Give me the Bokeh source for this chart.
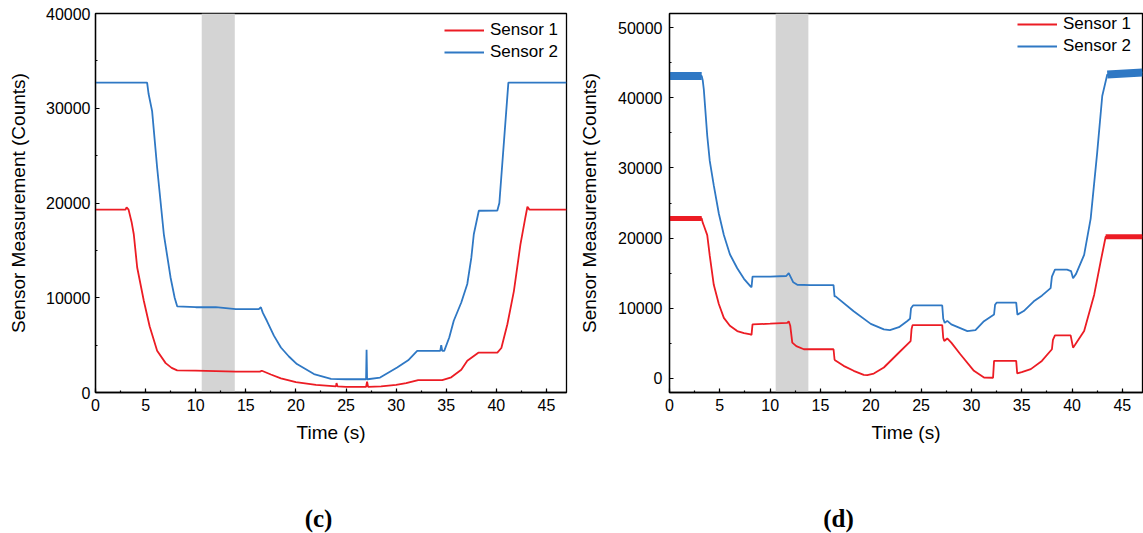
from bokeh.plotting import figure
from bokeh.models import Range1d, Legend, LegendItem, BoxAnnotation, Label, SingleIntervalTicker
from bokeh.layouts import row, column
from bokeh.embed import file_html
from bokeh.resources import INLINE

# ---------------- data ----------------
series_names = ["Sensor 1", "Sensor 2"]

# Panel (c)
c_s1_t = [0, 3.0, 3.1, 3.3, 3.6, 3.82, 4.16, 4.82, 5.4, 6.15, 7.0, 7.6, 8.15, 10, 12, 14, 16.4, 16.6,
          17.5, 18.5, 20, 22, 24.0, 24.05, 24.15, 25, 27.0, 27.1, 27.2, 28.5, 30, 31, 32.2, 34.6,
          35.5, 36.5, 37.1, 38.2, 40.1, 40.5, 41.1, 41.75, 42.4, 42.9, 43.1, 43.3, 47]
c_s1_y = [19300, 19300, 19550, 19300, 18000, 16700, 13190, 9680, 7000, 4400, 3100, 2600, 2330, 2300, 2250, 2200, 2200, 2300,
          1900, 1500, 1100, 800, 650, 1000, 650, 600, 600, 1150, 600, 650, 800, 1000, 1300, 1300,
          1600, 2400, 3350, 4200, 4200, 4700, 7200, 10700, 15600, 18500, 19600, 19300, 19300]

c_s2_t = [0, 5.15, 5.3, 5.65, 6.15, 6.82, 7.49, 7.9, 8.15, 10, 12, 14, 16.3, 16.5, 16.7, 17.1, 17.8, 18.5, 19.3, 20.1,
          21.8, 23.5, 25, 27.0, 27.05, 27.1, 27.15, 28.4, 30.1, 31.2, 32.1, 34.4, 34.5, 34.6, 34.8,
          35.3, 35.75, 36.5, 37.1, 37.5, 37.75, 38.25, 40.1, 40.3, 41.2, 47]
c_s2_y = [32700, 32700, 31500, 29700, 23750, 16700, 12140, 10000, 9100, 9000, 9000, 8800, 8800, 9000, 8400, 7570, 6000, 4750, 3800, 3000,
          1950, 1440, 1400, 1400, 4500, 1400, 1400, 1580, 2640, 3400, 4400, 4400, 5000, 4400, 4400,
          5800, 7570, 9500, 11450, 14200, 16700, 19180, 19200, 20000, 32700, 32700]
c_band = [10.6, 13.9]

# Panel (d)
d_s1_t = [0, 3.2, 3.3, 3.41, 3.75, 4.0, 4.4, 4.9, 5.4, 6.0, 6.73, 7.4, 8.05, 8.15, 8.25, 10, 11.7, 11.85, 12.0, 12.2, 12.6, 13.35,
          16.3, 16.4, 16.45, 17.3, 18.3, 19.3, 19.65, 20.3, 21.3, 22.63, 23.96, 24.05, 24.15, 27.1, 27.2,
          27.3, 27.6, 28.0, 28.9, 30.25, 31.25, 32.15, 32.25, 34.45, 34.55, 35.0, 35.9, 37.0, 38.0, 38.1,
          38.3, 39.86, 40.1, 40.3, 41.2, 42.2, 42.84, 43.34, 47]
d_s1_y = [22800, 22800, 22200, 21800, 20430, 17500, 13350, 10600, 8630, 7500, 6750, 6450, 6280, 6200, 7700, 7800, 7920, 8150, 7500, 5100, 4600, 4160,
          4160, 2700, 2600, 1800, 1090, 520, 480, 700, 1560, 3450, 5330, 7000, 7600, 7600, 5800,
          5330, 5700, 5100, 3450, 1090, 140, 100, 2500, 2500, 710, 900, 1330, 2500, 4160, 5500,
          6130, 6130, 4390, 4800, 6750, 11940, 16650, 20190, 20200]

d_s2_t = [0, 3.2, 3.3, 3.41, 3.75, 4.0, 4.4, 4.9, 5.4, 6.0, 6.73, 7.4, 8.05, 8.15, 8.25, 10, 11.6, 11.85, 12.3, 12.7, 14, 16.3,
          16.4, 16.5, 18.3, 20.0, 21.3, 21.9, 22.8, 23.6, 23.9, 24.0, 24.2, 27.1, 27.2, 27.35, 27.6, 28.0,
          29.6, 30.4, 31.25, 32.25, 32.35, 32.5, 34.45, 34.57, 35.2, 36.2, 37.0, 37.87, 38.0, 38.3, 39.5,
          39.9, 40.1, 40.4, 41.2, 41.85, 42.5, 43.0, 43.5, 47]
d_s2_y = [43100, 43100, 42500, 41170, 34580, 31000, 27500, 23500, 20430, 17700, 15700, 14200, 13120, 13000, 14500, 14500, 14600, 15000, 13700, 13350, 13300, 13300,
          11700, 11700, 9580, 7780, 6990, 6900, 7300, 8160, 8500, 10000, 10400, 10400, 8500, 7920, 8200, 7700,
          6750, 6900, 8160, 9110, 10500, 10800, 10800, 9100, 9600, 10990, 11800, 12870, 14500, 15500, 15500,
          15300, 14290, 14900, 17600, 22780, 32220, 40240, 43300, 43600]
d_band = [10.55, 13.8]

captions = ["(c)", "(d)"]

RED = "#ec1c24"
BLUE = "#2f78c4"
FONT = "Liberation Sans"


def style(p):
    p.background_fill_color = "white"
    p.border_fill_color = "white"
    p.outline_line_color = "black"
    p.outline_line_width = 1.3
    p.xgrid.visible = False
    p.ygrid.visible = False
    for ax in (p.xaxis[0], p.yaxis[0]):
        ax.axis_line_color = "black"
        ax.axis_line_width = 1.3
        ax.major_tick_in = 4
        ax.major_tick_out = 0
        ax.minor_tick_in = 2
        ax.minor_tick_out = 0
        ax.major_tick_line_color = "black"
        ax.minor_tick_line_color = "black"
        ax.major_tick_line_width = 1.2
        ax.minor_tick_line_width = 1.2
        ax.major_label_text_font = FONT
        ax.major_label_text_font_size = "16px"
        ax.major_label_text_color = "black"
        ax.axis_label_text_font = FONT
        ax.axis_label_text_font_size = "19px"
        ax.axis_label_text_font_style = "normal"
        ax.axis_label_text_color = "black"
    p.xaxis[0].ticker = SingleIntervalTicker(interval=5, num_minor_ticks=2)
    p.yaxis[0].ticker = SingleIntervalTicker(interval=10000, num_minor_ticks=2)
    p.xaxis[0].axis_label = "Time (s)"
    p.yaxis[0].axis_label = "Sensor Measurement (Counts)"
    p.xaxis[0].major_label_standoff = 6
    p.xaxis[0].axis_label_standoff = 8


def panel(width, bl, br, bt, yr, s1t, s1y, s2t, s2y, band, leg_x, leg_y, thick):
    p = figure(width=width, height=445, output_backend="svg", toolbar_location=None,
               x_range=Range1d(0, 47), y_range=Range1d(*yr),
               min_border_left=bl, min_border_right=br, min_border_top=bt, min_border_bottom=53)
    style(p)
    p.add_layout(BoxAnnotation(left=band[0], right=band[1], fill_color="#d4d4d4", fill_alpha=1.0,
                               line_color=None, level="underlay"))
    r1 = p.line(s1t, s1y, line_color=RED, line_width=1.8)
    r2 = p.line(s2t, s2y, line_color=BLUE, line_width=1.8)
    if thick:
        p.line(s1t[:2], s1y[:2], line_color=RED, line_width=5)
        p.line(s1t[-2:], s1y[-2:], line_color=RED, line_width=5)
        p.line(s2t[:2], s2y[:2], line_color=BLUE, line_width=8)
        p.line(s2t[-2:], s2y[-2:], line_color=BLUE, line_width=8)
    leg = Legend(items=[LegendItem(label=series_names[0], renderers=[r1]),
                        LegendItem(label=series_names[1], renderers=[r2])],
                 location=(leg_x, leg_y), padding=0, margin=0, spacing=0,
                 glyph_width=40, glyph_height=22, label_height=22, label_standoff=6,
                 label_text_font=FONT, label_text_font_size="17px", label_text_color="black",
                 border_line_color=None, background_fill_alpha=0)
    p.add_layout(leg)
    return p


def caption(width, text, cx):
    c = figure(width=width, height=88, output_backend="svg", toolbar_location=None,
               x_range=Range1d(0, 1), y_range=Range1d(0, 1),
               min_border_left=0, min_border_right=0, min_border_top=0, min_border_bottom=0)
    c.axis.visible = False
    c.grid.visible = False
    c.outline_line_color = None
    c.background_fill_color = "white"
    c.border_fill_color = "white"
    c.add_layout(Label(x=cx, y=15, x_units="screen", y_units="screen", text=text,
                       text_font="Liberation Serif", text_font_style="bold", text_font_size="25px",
                       text_align="center", text_baseline="middle", text_color="black"))
    return c


p1 = panel(575, 95, 9, 13, (0, 40000), c_s1_t, c_s1_y, c_s2_t, c_s2_y, c_band, 349, 329, False)
p1.yaxis[0].major_label_standoff = 5
p1.yaxis[0].axis_label_standoff = 14

p2 = panel(568, 94, 1, 11, (-2000, 52000), d_s1_t, d_s1_y, d_s2_t, d_s2_y, d_band, 348, 335, True)
p2.yaxis[0].major_label_standoff = 7
p2.yaxis[0].axis_label_standoff = 15

cap1 = caption(575, captions[0], 318)
cap2 = caption(568, captions[1], 838 - 575)

layout = column(row(p1, p2, spacing=0), row(cap1, cap2, spacing=0), spacing=0)
open("out.html", "w").write(file_html(layout, INLINE))
